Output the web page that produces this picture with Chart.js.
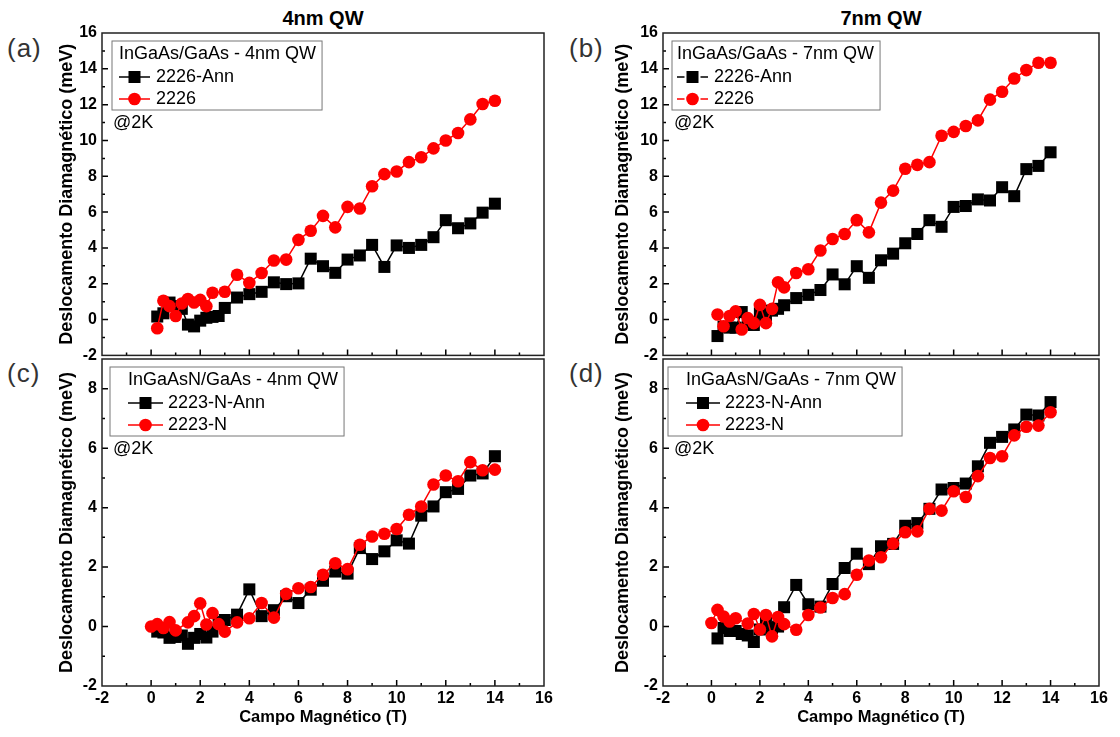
<!DOCTYPE html>
<html>
<head>
<meta charset="utf-8">
<script src="https://cdn.jsdelivr.net/npm/chart.js@4.4.0/dist/chart.umd.min.js"></script>
<style>
  body { margin: 0; background: #fff; width: 1120px; height: 737px; position: relative; overflow: hidden;
         font-family: "Liberation Sans", Arial, sans-serif; }
  .pane { position: absolute; }
  .tag { position: absolute; font-size: 26px; line-height: 26px; color: #333; letter-spacing: 1px; }
  .head { position: absolute; width: 200px; text-align: center; font-weight: bold; font-size: 20px; line-height: 20px; }
</style>
</head>
<body>
<div class="head" style="left:223px;top:8px">4nm QW</div>
<div class="head" style="left:781px;top:8px">7nm QW</div>
<div class="tag" style="left:7px;top:35px">(a)</div>
<div class="tag" style="left:569px;top:35px">(b)</div>
<div class="tag" style="left:7px;top:360px">(c)</div>
<div class="tag" style="left:569px;top:360px">(d)</div>

<div class="pane" style="left:0;top:0;width:560px;height:370px"><canvas id="ca"></canvas></div>
<div class="pane" style="left:560px;top:0;width:560px;height:370px"><canvas id="cb"></canvas></div>
<div class="pane" style="left:0;top:340px;width:560px;height:397px"><canvas id="cc"></canvas></div>
<div class="pane" style="left:560px;top:340px;width:560px;height:397px"><canvas id="cd"></canvas></div>

<script>
// (a) InGaAs/GaAs 4nm
const xAnn4 = [0.25,0.5,0.75,1,1.25,1.5,1.75,2,2.25,2.5,2.75,3,3.5,4,4.5,5,5.5,6,6.5,7,7.5,8,8.5,9,9.5,10,10.5,11,11.5,12,12.5,13,13.5,14];
const yAnn4 = [0.17,0.35,0.95,0.75,0.6,-0.28,-0.38,-0.06,0.1,0.15,0.2,0.65,1.23,1.42,1.55,2.08,1.98,2.02,3.4,2.98,2.61,3.35,3.58,4.17,2.94,4.14,4.0,4.17,4.6,5.55,5.1,5.37,5.97,6.47];
const x4 = [0.25,0.5,0.75,1,1.25,1.5,1.75,2,2.25,2.5,3,3.5,4,4.5,5,5.5,6,6.5,7,7.5,8,8.5,9,9.5,10,10.5,11,11.5,12,12.5,13,13.5,14];
const y4 = [-0.48,1.05,0.75,0.2,0.9,1.15,0.95,1.1,0.75,1.5,1.55,2.5,2.05,2.6,3.3,3.35,4.45,4.96,5.79,5.15,6.29,6.2,7.44,8.12,8.27,8.79,9.06,9.56,10.0,10.42,11.18,12.04,12.22];

// (b) InGaAs/GaAs 7nm
const xAnn7 = [0.25,0.5,0.75,1,1.25,1.5,1.75,2,2.25,2.5,2.75,3,3.5,4,4.5,5,5.5,6,6.5,7,7.5,8,8.5,9,9.5,10,10.5,11,11.5,12,12.5,13,13.5,14];
const yAnn7 = [-0.92,-0.4,-0.45,-0.45,0.42,-0.15,-0.3,0.35,0.25,0.5,0.6,0.8,1.2,1.38,1.65,2.52,1.97,2.98,2.33,3.31,3.68,4.26,4.78,5.55,5.18,6.29,6.34,6.71,6.65,7.39,6.89,8.4,8.58,9.34];
const x7 = [0.25,0.5,0.75,1,1.25,1.5,1.75,2,2.25,2.5,2.75,3,3.5,4,4.5,5,5.5,6,6.5,7,7.5,8,8.5,9,9.5,10,10.5,11,11.5,12,12.5,13,13.5,14];
const y7 = [0.28,-0.37,0.2,0.46,-0.55,0.08,-0.2,0.82,-0.2,0.6,2.08,1.8,2.6,2.81,3.86,4.5,4.78,5.55,4.87,6.53,7.2,8.42,8.64,8.79,10.26,10.48,10.81,11.12,12.28,12.72,13.46,13.93,14.34,14.34];

// (c) InGaAsN/GaAs 4nm
const xNAnn4 = [0.25,0.5,0.75,1,1.25,1.5,1.75,2,2.25,2.5,2.75,3,3.5,4,4.5,5,5.5,6,6.5,7,7.5,8,8.5,9,9.5,10,10.5,11,11.5,12,12.5,13,13.5,14];
const yNAnn4 = [-0.17,-0.2,-0.38,-0.35,-0.3,-0.58,-0.38,-0.25,-0.37,-0.17,0.15,0.22,0.4,1.25,0.35,0.55,1.02,0.79,1.24,1.54,1.85,1.78,2.64,2.27,2.53,2.9,2.79,3.73,4.04,4.52,4.63,5.08,5.15,5.73];
const xN4 = [0,0.25,0.5,0.75,1,1.5,1.75,2,2.25,2.5,2.75,3,3.5,4,4.5,5,5.5,6,6.5,7,7.5,8,8.5,9,9.5,10,10.5,11,11.5,12,12.5,13,13.5,14];
const yN4 = [0.0,0.08,-0.05,0.15,-0.13,0.14,0.35,0.78,0.07,0.45,0.08,-0.17,0.14,0.28,0.79,0.3,1.1,1.29,1.33,1.74,2.13,1.93,2.75,3.03,3.12,3.28,3.76,4.04,4.78,5.08,4.89,5.53,5.26,5.28];

// (d) InGaAsN/GaAs 7nm
const xNAnn7 = [0.25,0.5,0.75,1,1.25,1.5,1.75,2,2.25,2.5,2.75,3,3.5,4,4.5,5,5.5,6,6.5,7,7.5,8,8.5,9,9.5,10,10.5,11,11.5,12,12.5,13,13.5,14];
const yNAnn7 = [-0.4,-0.05,-0.15,-0.15,-0.25,-0.3,-0.52,-0.1,0.12,-0.05,0.0,0.65,1.4,0.75,0.67,1.43,1.97,2.45,2.1,2.7,2.78,3.39,3.48,3.96,4.61,4.66,4.81,5.39,6.18,6.38,6.63,7.13,7.1,7.55];
const xN7 = [0,0.25,0.5,0.75,1,1.5,1.75,2,2.25,2.5,2.75,3,3.5,4,4.5,5,5.5,6,6.5,7,7.5,8,8.5,9,9.5,10,10.5,11,11.5,12,12.5,13,13.5,14];
const yN7 = [0.12,0.56,0.34,0.17,0.28,0.1,0.42,-0.1,0.39,-0.33,0.32,0.08,-0.11,0.39,0.64,0.96,1.09,1.74,2.22,2.33,2.79,3.17,3.2,3.96,3.9,4.55,4.36,5.06,5.67,5.73,6.43,6.72,6.76,7.21];

const xRange = [-2, 16];
const yRangeTop = [-2, 16];
const yRangeBottom = [-2, 9];

const FONT = "'Liberation Sans', Arial, sans-serif";

const pts = (xs, ys) => xs.map((x, i) => ({ x: x, y: ys[i] }));

// inward tick marks + frame, like the original plot
const innerTicks = {
  id: 'innerTicks',
  afterDraw(chart) {
    const { ctx, chartArea: a, scales: { x, y } } = chart;
    ctx.save();
    ctx.strokeStyle = '#000';
    ctx.lineWidth = 1.5;
    ctx.beginPath();
    x.ticks.forEach(t => {
      if (t.value <= x.min || t.value >= x.max) return;
      const px = x.getPixelForValue(t.value);
      const len = t.value % 2 === 0 ? 6 : 3;
      ctx.moveTo(px, a.bottom); ctx.lineTo(px, a.bottom - len);
    });
    y.ticks.forEach(t => {
      if (t.value <= y.min || t.value >= y.max) return;
      const py = y.getPixelForValue(t.value);
      const len = t.value % 2 === 0 ? 6 : 3;
      ctx.moveTo(a.left, py); ctx.lineTo(a.left + len, py);
    });
    ctx.stroke();
    ctx.strokeStyle = '#222';
    ctx.strokeRect(a.left, a.top, a.width, a.height);
    ctx.restore();
  }
};

// boxed legend in the upper left of the plot, with a title line and "@2K" note
const boxLegend = {
  id: 'boxLegend',
  afterDraw(chart, args, o) {
    const { ctx, chartArea: a } = chart;
    ctx.save();
    ctx.font = '18px ' + FONT;
    ctx.textBaseline = 'middle';
    ctx.fillStyle = '#000';
    const bx = a.left + o.dx, by = a.top + 8;
    const tw = ctx.measureText(o.title).width;
    const bw = o.indent + tw + 6, bh = 69;
    ctx.strokeStyle = '#777';
    ctx.lineWidth = 1;
    ctx.strokeRect(bx, by, bw, bh);
    const tx = bx + o.indent;
    ctx.fillText(o.title, tx, by + 13);
    const order = [1, 0];
    order.forEach((di, k) => {
      const ds = chart.data.datasets[di];
      const ey = by + 36 + k * 22;
      const mx = tx + o.lineLen / 2;
      ctx.strokeStyle = ds.borderColor;
      ctx.lineWidth = 1.5;
      ctx.beginPath();
      if (o.gapped) {
        ctx.moveTo(tx, ey); ctx.lineTo(mx - 8, ey);
        ctx.moveTo(mx + 8, ey); ctx.lineTo(tx + o.lineLen, ey);
      } else {
        ctx.moveTo(tx, ey); ctx.lineTo(tx + o.lineLen, ey);
      }
      ctx.stroke();
      ctx.fillStyle = ds.backgroundColor;
      if (ds.pointStyle === 'rect') {
        ctx.fillRect(mx - 6, ey - 6, 12, 12);
      } else {
        ctx.beginPath(); ctx.arc(mx, ey, 6.3, 0, Math.PI * 2); ctx.fill();
      }
      ctx.fillStyle = '#000';
      ctx.fillText(ds.label, tx + o.labelDx, ey);
    });
    ctx.fillText('@2K', a.left + 11, a.top + 90);
    ctx.restore();
  }
};

function panel(id, p) {
  new Chart(document.getElementById(id), {
    type: 'line',
    data: {
      datasets: [
        { label: p.names[1], data: p.red, borderColor: '#ff0000', backgroundColor: '#ff0000',
          borderWidth: 1.5, pointStyle: 'circle', pointRadius: 6.3, pointBorderWidth: 0, tension: 0 },
        { label: p.names[0], data: p.black, borderColor: '#000000', backgroundColor: '#000000',
          borderWidth: 1.5, pointStyle: 'rect', pointRadius: 8.5, pointBorderWidth: 0, tension: 0 }
      ]
    },
    options: {
      responsive: true,
      maintainAspectRatio: false,
      animation: false,
      clip: false,
      layout: { padding: p.pad },
      plugins: {
        legend: { display: false },
        tooltip: { enabled: false },
        boxLegend: p.legend
      },
      scales: {
        x: {
          type: 'linear', min: xRange[0], max: xRange[1],
          grid: { display: false, drawTicks: false },
          border: { display: false },
          ticks: { stepSize: 1, autoSkip: false, maxRotation: 0, padding: 3, color: '#000',
                   font: { family: FONT, size: 16, weight: 'bold' },
                   callback: v => (p.showX && v % 2 === 0) ? String(v) : '' },
          title: { display: p.showX, text: 'Campo Magnético (T)', color: '#000',
                   font: { family: FONT, size: 16.5, weight: 'bold' }, padding: { top: 0, bottom: 5 } },
          afterFit: s => { s.height = p.xh; }
        },
        y: {
          type: 'linear', min: p.yr[0], max: p.yr[1],
          grid: { display: false, drawTicks: false },
          border: { display: false },
          ticks: { stepSize: 1, autoSkip: false, padding: 5, color: '#000',
                   font: { family: FONT, size: 16, weight: 'bold' },
                   callback: v => v % 2 === 0 ? String(v) : '' },
          title: { display: true, text: 'Deslocamento Diamagnético (meV)', color: '#000',
                   font: { family: FONT, size: 18, weight: 'bold' }, padding: { top: 4, bottom: 0 } },
          afterFit: s => { s.width = p.yw; }
        }
      }
    },
    plugins: [innerTicks, boxLegend]
  });
}

panel('ca', {
  names: ['2226-Ann', '2226'], black: pts(xAnn4, yAnn4), red: pts(x4, y4), yr: yRangeTop, showX: false,
  pad: { left: 52, top: 33, right: 16, bottom: 0 }, yw: 50, xh: 11,
  legend: { title: 'InGaAs/GaAs - 4nm QW', dx: 10, indent: 7, lineLen: 31, labelDx: 37, gapped: false }
});
panel('cb', {
  names: ['2226-Ann', '2226'], black: pts(xAnn7, yAnn7), red: pts(x7, y7), yr: yRangeTop, showX: false,
  pad: { left: 48, top: 33, right: 21, bottom: 0 }, yw: 55, xh: 11,
  legend: { title: 'InGaAs/GaAs - 7nm QW', dx: 9, indent: 5, lineLen: 31, labelDx: 37, gapped: true }
});
panel('cc', {
  names: ['2223-N-Ann', '2223-N'], black: pts(xNAnn4, yNAnn4), red: pts(xN4, yN4), yr: yRangeBottom, showX: true,
  pad: { left: 52, top: 19, right: 16, bottom: 5 }, yw: 50, xh: 46,
  legend: { title: 'InGaAsN/GaAs - 4nm QW', dx: 8, indent: 18, lineLen: 35, labelDx: 40, gapped: false }
});
panel('cd', {
  names: ['2223-N-Ann', '2223-N'], black: pts(xNAnn7, yNAnn7), red: pts(xN7, yN7), yr: yRangeBottom, showX: true,
  pad: { left: 48, top: 19, right: 21, bottom: 5 }, yw: 55, xh: 46,
  legend: { title: 'InGaAsN/GaAs - 7nm QW', dx: 5, indent: 18, lineLen: 34, labelDx: 39, gapped: false }
});
</script>
</body>
</html>
